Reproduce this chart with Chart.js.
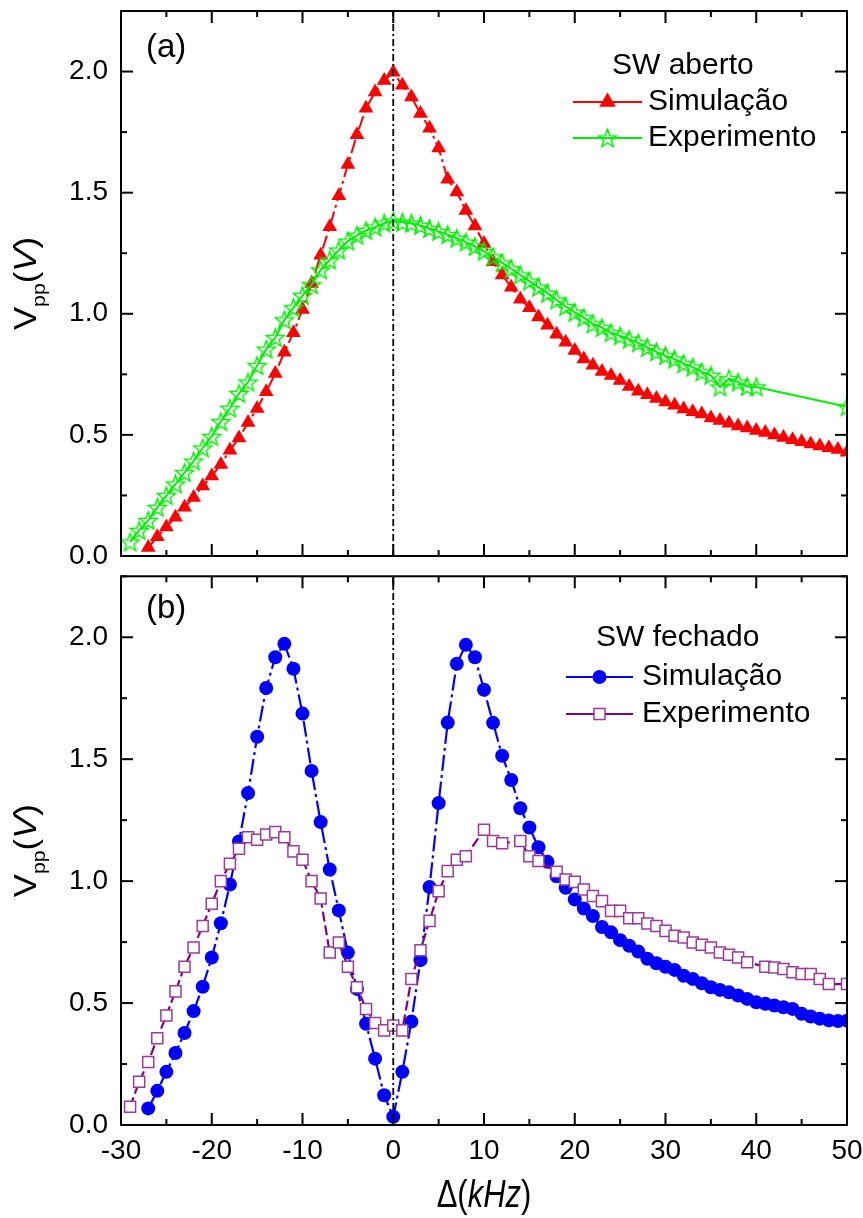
<!DOCTYPE html>
<html>
<head>
<meta charset="utf-8">
<script src="https://cdn.jsdelivr.net/npm/chart.js@4.4.1/dist/chart.umd.min.js"></script>
<style>
  html, body { margin: 0; padding: 0; background: #fff; }
  #wrap { position: relative; width: 863px; height: 1218px; background: #fff; }
  canvas { position: absolute; left: 0; }
  #panelA { top: 0; }
  #panelB { top: 567px; }
</style>
</head>
<body>
<div id="wrap">
  <canvas id="panelA" width="863" height="567"></canvas>
  <canvas id="panelB" width="863" height="651"></canvas>
</div>
<script>
// ---- data: detuning (kHz) and peak-to-peak voltage (V) ----
const freqSimA = [-27,-26,-25,-24,-23,-22,-21,-20,-19,-18,-17,-16,-15,-14,-13,-12,-11,-10,-9,-8,-7,-6,-5,-4,-3,-2,-1,0,1,2,3,4,5,6,7,8,9,10,11,12,13,14,15,16,17,18,19,20,21,22,23,24,25,26,27,28,29,30,31,32,33,34,35,36,37,38,39,40,41,42,43,44,45,46,47,48,49,50];
const vppSimA = [0.035,0.079,0.120,0.160,0.201,0.242,0.289,0.330,0.378,0.437,
                 0.487,0.551,0.609,0.678,0.753,0.841,0.922,1.018,1.125,1.242,
                 1.359,1.487,1.616,1.739,1.848,1.916,1.963,1.997,1.943,1.895,
                 1.827,1.766,1.684,1.555,1.503,1.426,1.362,1.290,1.215,1.160,
                 1.110,1.060,1.025,0.987,0.953,0.915,0.882,0.848,0.813,0.788,
                 0.762,0.745,0.725,0.700,0.680,0.666,0.650,0.636,0.622,0.607,
                 0.596,0.586,0.570,0.559,0.548,0.537,0.528,0.518,0.510,0.500,
                 0.489,0.480,0.472,0.462,0.454,0.447,0.440,0.428];

const freqExpA = [-29,-28,-27,-26,-25,-24,-23,-22,-21,-20,-19,-18,-17,-16,-15,-14,-13,-12,-11,-10,-9,-8,-7,-6,-5,-4,-3,-2,-1,0,1,2,3,4,5,6,7,8,9,10,11,12,13,14,15,16,17,18,19,20,21,22,23,24,25,26,27,28,29,30,31,32,33,34,35,36,37,38,39,40,50];
const vppExpA = [0.058,0.106,0.147,0.201,0.249,0.297,0.344,0.392,0.446,0.494,
                 0.555,0.610,0.671,0.718,0.786,0.854,0.902,0.975,1.025,1.075,
                 1.120,1.181,1.222,1.263,1.300,1.324,1.344,1.358,1.374,1.383,
                 1.378,1.374,1.365,1.352,1.340,1.327,1.312,1.296,1.278,1.258,
                 1.235,1.210,1.186,1.160,1.135,1.110,1.085,1.057,1.030,1.006,
                 0.984,0.958,0.943,0.922,0.909,0.895,0.880,0.861,0.843,0.827,
                 0.813,0.794,0.780,0.760,0.746,0.698,0.732,0.718,0.700,0.698,
                 0.616];

const freqSimB = [-27,-26,-25,-24,-23,-22,-21,-20,-19,-18,-17,-16,-15,-14,-13,-12,-11,-10,-9,-8,-7,-6,-5,-4,-3,-2,-1,0,1,2,3,4,5,6,7,8,9,10,11,12,13,14,15,16,17,18,19,20,21,22,23,24,25,26,27,28,29,30,31,32,33,34,35,36,37,38,39,40,41,42,43,44,45,46,47,48,49,50];
const vppSimB = [0.068,0.140,0.218,0.295,0.377,0.467,0.567,0.687,0.827,0.986,
                 1.163,1.361,1.592,1.792,1.918,1.973,1.871,1.687,1.452,1.242,
                 1.048,0.880,0.707,0.558,0.415,0.272,0.122,0.034,0.218,0.424,
                 0.676,0.976,1.320,1.650,1.891,1.969,1.918,1.785,1.649,1.514,
                 1.415,1.299,1.220,1.139,1.079,1.020,0.973,0.925,0.888,0.857,
                 0.812,0.790,0.758,0.735,0.711,0.682,0.663,0.649,0.636,0.612,
                 0.599,0.581,0.565,0.554,0.544,0.531,0.517,0.503,0.497,0.490,
                 0.483,0.476,0.456,0.445,0.436,0.429,0.426,0.428];

const freqExpB = [-29,-28,-27,-26,-25,-24,-23,-22,-21,-20,-19,-18,-17,-16,-15,-14,-13,-12,-11,-10,-9,-8,-7,-6,-5,-4,-3,-2,-1,0,1,2,3,4,5,6,7,8,10,11,12,14,15,16,18,19,20,21,22,23,24,25,26,27,28,29,30,31,32,33,34,35,36,37,38,39,41,42,43,44,45,46,47,48,50];
const vppExpB = [0.075,0.177,0.258,0.356,0.449,0.548,0.649,0.728,0.816,0.907,
                 1.000,1.071,1.133,1.180,1.170,1.191,1.201,1.180,1.122,1.088,
                 1.000,0.929,0.707,0.748,0.649,0.565,0.476,0.418,0.388,0.408,
                 0.388,0.599,0.717,0.837,0.959,1.041,1.088,1.102,
                 1.211,1.165,1.155,
                 1.165,1.102,1.083,
                 1.038,1.007,0.997,0.966,0.939,0.918,0.878,0.878,0.848,0.848,
                 0.826,0.816,0.796,0.776,0.769,0.748,0.739,0.728,0.707,0.698,0.687,0.667,
                 0.649,0.646,0.640,0.626,0.619,0.619,0.599,0.578,
                 0.578];

// axis ticks
const xTicks = [-30,-20,-10,0,10,20,30,40,50];
const yTicks = [0,0.5,1.0,1.5,2.0];
const xRange = [-30, 50];
const yRange = [0, 2.25];
const zeroDetuning = 0;

// ---- styling ----
const SANS = "'Liberation Sans', Arial, sans-serif";
const RED = '#ff0000', GREEN = '#00f000', BLUE = '#0000ff', PURPLE = '#800080', PURPLE_MK = '#9a3a9a';

function pairs(xs, ys) { return xs.map((x, i) => ({ x: x, y: ys[i] })); }

function makeStar(color, R) {
  const s = Math.ceil(R * 2 + 4);
  const c = document.createElement('canvas');
  c.width = s; c.height = s;
  const g = c.getContext('2d');
  g.strokeStyle = color; g.lineWidth = 1.5; g.lineJoin = 'miter';
  g.beginPath();
  for (let i = 0; i < 10; i++) {
    const r = (i % 2) ? R * 0.42 : R;
    const a = -Math.PI / 2 + i * Math.PI / 5;
    const px = s / 2 + r * Math.cos(a), py = s / 2 + r * Math.sin(a) + R * 0.1;
    if (i) g.lineTo(px, py); else g.moveTo(px, py);
  }
  g.closePath(); g.stroke();
  return c;
}
const starImg = makeStar(GREEN, 9.5);

function zeroLineDataset() {
  return {
    label: 'zero', data: [{ x: zeroDetuning, y: yRange[0] }, { x: zeroDetuning, y: yRange[1] }],
    borderColor: '#000', borderWidth: 1.8, borderDash: [7, 3, 2, 3], pointRadius: 0, fill: false
  };
}

function drawMarker(ctx, m, x, y) {
  ctx.save();
  if (m.type === 'star') {
    ctx.drawImage(starImg, x - starImg.width / 2, y - starImg.height / 2);
  } else if (m.type === 'triangle') {
    const r = m.r;
    ctx.fillStyle = m.fill;
    ctx.beginPath();
    ctx.moveTo(x, y - r);
    ctx.lineTo(x + r * Math.sin(2 * Math.PI / 3), y - r * Math.cos(2 * Math.PI / 3));
    ctx.lineTo(x + r * Math.sin(4 * Math.PI / 3), y - r * Math.cos(4 * Math.PI / 3));
    ctx.closePath(); ctx.fill();
  } else if (m.type === 'circle') {
    ctx.fillStyle = m.fill;
    ctx.beginPath(); ctx.arc(x, y, m.r, 0, Math.PI * 2); ctx.fill();
  } else if (m.type === 'rect') {
    const h = m.r * Math.SQRT1_2;
    ctx.fillStyle = m.fill; ctx.strokeStyle = m.stroke; ctx.lineWidth = 1.5;
    ctx.fillRect(x - h, y - h, 2 * h, 2 * h);
    ctx.strokeRect(x - h, y - h, 2 * h, 2 * h);
  }
  ctx.restore();
}

// rich text: array of {t, italic, sub}, centred on the origin
function drawRich(ctx, parts, size) {
  const subSize = Math.round(size * 0.62);
  let w = 0;
  const widths = parts.map(p => {
    ctx.font = (p.italic ? 'italic ' : '') + (p.sub ? subSize : size) + 'px ' + SANS;
    const mw = ctx.measureText(p.t).width; w += mw; return mw;
  });
  let x = -w / 2;
  parts.forEach((p, i) => {
    ctx.font = (p.italic ? 'italic ' : '') + (p.sub ? subSize : size) + 'px ' + SANS;
    ctx.fillText(p.t, x, p.sub ? size * 0.28 : 0);
    x += widths[i];
  });
}

// frame, inward major/minor ticks on all sides, axis titles, panel tag, legend
const decorPlugin = {
  id: 'decor',
  afterDraw(chart, args, o) {
    const ctx = chart.ctx, a = chart.chartArea, xs = chart.scales.x, ys = chart.scales.y;
    ctx.save();
    ctx.strokeStyle = '#000'; ctx.lineWidth = 2; ctx.setLineDash([]);
    const seg = (x1, y1, x2, y2) => { ctx.beginPath(); ctx.moveTo(x1, y1); ctx.lineTo(x2, y2); ctx.stroke(); };
    for (let i = 0; i < xTicks.length; i++) {
      const v = xTicks[i], px = xs.getPixelForValue(v);
      seg(px, a.top, px, a.top + 12); seg(px, a.bottom, px, a.bottom - 12);
      if (i < xTicks.length - 1) {
        const pm = xs.getPixelForValue((v + xTicks[i + 1]) / 2);
        seg(pm, a.top, pm, a.top + 6); seg(pm, a.bottom, pm, a.bottom - 6);
      }
    }
    for (let i = 0; i < yTicks.length; i++) {
      const v = yTicks[i], py = ys.getPixelForValue(v);
      seg(a.left, py, a.left + 12, py); seg(a.right, py, a.right - 12, py);
      const pm = ys.getPixelForValue(v + 0.25);
      seg(a.left, pm, a.left + 6, pm); seg(a.right, pm, a.right - 6, pm);
    }
    ctx.strokeRect(a.left, a.top, a.right - a.left, a.bottom - a.top);

    ctx.fillStyle = '#000';
    // y-axis title V_pp(V)
    ctx.save();
    ctx.translate(36, (a.top + a.bottom) / 2);
    ctx.rotate(-Math.PI / 2);
    ctx.scale(1.12, 1);
    ctx.textBaseline = 'alphabetic';
    drawRich(ctx, [{ t: 'V' }, { t: 'pp', sub: true }, { t: '(' }, { t: 'V', italic: true }, { t: ')' }], 31);
    ctx.restore();

    // x-axis title
    if (o.xTitle) {
      ctx.save();
      ctx.translate((a.left + a.right) / 2, o.xTitleY);
      ctx.scale(1, 1.25);
      ctx.textBaseline = 'alphabetic';
      drawRich(ctx, [{ t: '\u0394(' }, { t: 'kHz', italic: true }, { t: ')' }], 31);
      ctx.restore();
    }

    // panel tag
    ctx.font = '33px ' + SANS; ctx.textBaseline = 'middle'; ctx.textAlign = 'left';
    ctx.fillText(o.tag, 146, o.tagY);

    // legend
    const L = o.legend;
    ctx.font = '30px ' + SANS;
    ctx.fillText(L.title, L.titleX, L.titleY);
    L.rows.forEach(r => {
      ctx.strokeStyle = r.lineColor; ctx.lineWidth = 2.2;
      seg(L.lineX0, r.y, L.lineX1, r.y);
      drawMarker(ctx, r.marker, (L.lineX0 + L.lineX1) / 2, r.y);
      ctx.fillStyle = '#000';
      ctx.fillText(r.label, L.textX, r.y);
    });
    ctx.restore();
  }
};

function scalesFor(showX) {
  return {
    x: {
      type: 'linear', min: xRange[0], max: xRange[1],
      grid: { display: false, drawTicks: false }, border: { display: false },
      afterBuildTicks(s) { s.ticks = xTicks.map(v => ({ value: v })); },
      ticks: { display: showX, padding: 9, color: '#000', maxRotation: 0, autoSkip: false,
               font: { family: SANS, size: 28 }, callback: v => String(v) },
      afterFit(s) { s.height = showX ? 93 : 6; s.paddingLeft = 0; s.paddingRight = 0; }
    },
    y: {
      type: 'linear', min: yRange[0], max: yRange[1],
      grid: { display: false, drawTicks: false }, border: { display: false },
      afterBuildTicks(s) { s.ticks = yTicks.map(v => ({ value: v })); },
      ticks: { padding: 13, color: '#000', font: { family: SANS, size: 28 },
               callback: v => Number(v).toFixed(1) },
      afterFit(s) { s.width = 121; s.paddingTop = 0; s.paddingBottom = 0; }
    }
  };
}

const triMarker = { type: 'triangle', r: 9.5, fill: RED };
const starMarker = { type: 'star' };
const dotMarker = { type: 'circle', r: 7, fill: BLUE };
const boxMarker = { type: 'rect', r: 7.8, fill: '#fff', stroke: PURPLE_MK };

// panel (a): SW aberto
new Chart(document.getElementById('panelA'), {
  type: 'line',
  data: {
    datasets: [
      zeroLineDataset(),
      { label: 'Experimento', data: pairs(freqExpA, vppExpA), borderColor: GREEN, borderWidth: 2,
        pointStyle: starImg, pointRadius: 9, fill: false },
      { label: 'Simulação', data: pairs(freqSimA, vppSimA), borderColor: RED, borderWidth: 2,
        borderDash: [14, 4, 3, 4], pointStyle: 'triangle', pointRadius: 8.5,
        pointBackgroundColor: RED, pointBorderColor: RED, pointBorderWidth: 0, fill: false }
    ]
  },
  options: {
    responsive: false, animation: false, devicePixelRatio: 1,
    layout: { padding: { left: 0, right: 16, top: 8, bottom: 0 } },
    scales: scalesFor(false),
    plugins: {
      legend: { display: false }, tooltip: { enabled: false },
      decor: {
        tag: '(a)', tagY: 48, xTitle: false,
        legend: { title: 'SW aberto', titleX: 612, titleY: 66, lineX0: 573, lineX1: 642, textX: 648,
          rows: [ { label: 'Simulação', y: 102, lineColor: RED, marker: triMarker },
                  { label: 'Experimento', y: 138, lineColor: GREEN, marker: starMarker } ] }
      }
    }
  },
  plugins: [decorPlugin]
});

// panel (b): SW fechado
new Chart(document.getElementById('panelB'), {
  type: 'line',
  data: {
    datasets: [
      zeroLineDataset(),
      { label: 'Experimento', data: pairs(freqExpB, vppExpB), borderColor: PURPLE, borderWidth: 2.2,
        borderDash: [10, 4], pointStyle: 'rect', pointRadius: 7.8,
        pointBackgroundColor: '#fff', pointBorderColor: PURPLE_MK, pointBorderWidth: 1.5, fill: false },
      { label: 'Simulação', data: pairs(freqSimB, vppSimB), borderColor: BLUE, borderWidth: 2.2,
        borderDash: [16, 4, 3, 4], pointStyle: 'circle', pointRadius: 7,
        pointBackgroundColor: BLUE, pointBorderColor: BLUE, pointBorderWidth: 0, fill: false }
    ]
  },
  options: {
    responsive: false, animation: false, devicePixelRatio: 1,
    layout: { padding: { left: 0, right: 16, top: 6, bottom: 0 } },
    scales: scalesFor(true),
    plugins: {
      legend: { display: false }, tooltip: { enabled: false },
      decor: {
        tag: '(b)', tagY: 42, xTitle: true, xTitleY: 640,
        legend: { title: 'SW fechado', titleX: 596, titleY: 71, lineX0: 566, lineX1: 633, textX: 642,
          rows: [ { label: 'Simulação', y: 110, lineColor: BLUE, marker: dotMarker },
                  { label: 'Experimento', y: 147, lineColor: PURPLE, marker: boxMarker } ] }
      }
    }
  },
  plugins: [decorPlugin]
});
</script>
</body>
</html>
